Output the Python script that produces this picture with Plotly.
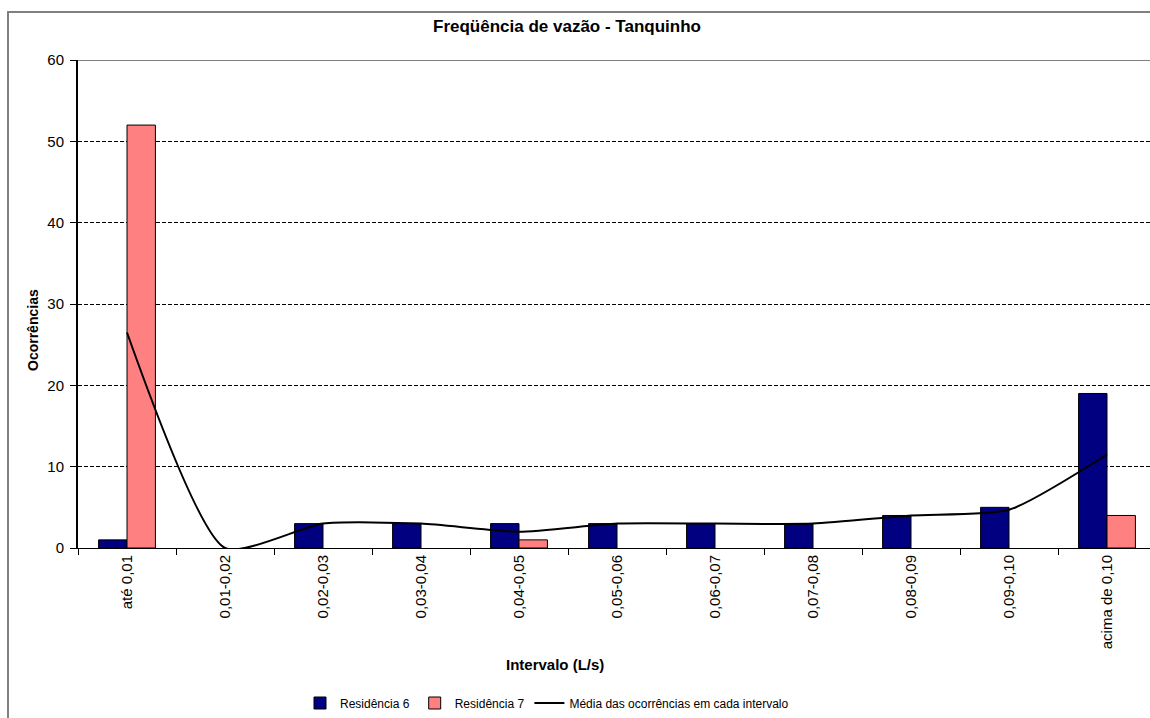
import plotly.graph_objects as go

categories = ["até 0,01", "0,01-0,02", "0,02-0,03", "0,03-0,04", "0,04-0,05",
              "0,05-0,06", "0,06-0,07", "0,07-0,08", "0,08-0,09", "0,09-0,10",
              "acima de 0,10"]
res6 = [1, 0, 3, 3, 3, 3, 3, 3, 4, 5, 19]
res7 = [52, 0, 0, 0, 1, 0, 0, 0, 0, 0, 4]
media = [26.5, 0, 3, 3, 2, 3, 3, 3, 4, 4.7, 11.5]
y_ticks = [0, 10, 20, 30, 40, 50, 60]

W, H = 1150, 718
L, R, T, B = 78, 0, 60, 170
PW, PH = W - L - R, H - T - B
FONT = "Arial, Liberation Sans, sans-serif"

def px_x(p):
    return (p - L) / PW

def px_y(p):
    return (H - B - p) / PH

def outline(vals):
    return [1 if v else 0 for v in vals]

fig = go.Figure()
fig.add_trace(go.Bar(x=categories, y=res6, name="Residência 6",
                     marker=dict(color="#000080", line=dict(color="#000000", width=outline(res6)))))
fig.add_trace(go.Bar(x=categories, y=res7, name="Residência 7",
                     marker=dict(color="#FF8080", line=dict(color="#000000", width=outline(res7)))))
fig.add_trace(go.Scatter(x=categories, y=media, name="Média das ocorrências em cada intervalo",
                         mode="lines", line=dict(color="#000000", width=2, shape="spline", smoothing=0.6)))

fig.update_layout(
    width=W, height=H,
    margin=dict(l=L, r=R, t=T, b=B, autoexpand=False),
    paper_bgcolor="white", plot_bgcolor="white",
    barmode="group", bargap=0.42, bargroupgap=0,
    font=dict(family=FONT, color="#000000", size=13),
    title=dict(text="<b>Freqüência de vazão - Tanquinho</b>", x=567 / W, xanchor="center",
               y=1 - 26 / H, yanchor="middle", font=dict(size=17, family=FONT)),
    showlegend=True,
    legend=dict(orientation="h", x=px_x(300), xanchor="left", y=px_y(703), yanchor="middle",
                font=dict(size=12, family=FONT), bgcolor="rgba(0,0,0,0)",
                itemwidth=30, tracegroupgap=0),
    xaxis=dict(type="category", range=[-0.5, -0.5 + PW / 98.0], tickangle=-90,
               tickson="boundaries", ticks="outside", ticklen=6, tickcolor="#000000",
               showline=True, linecolor="#000000", linewidth=1, showgrid=False,
               tickfont=dict(size=15, family=FONT), fixedrange=True),
    yaxis=dict(range=[0, 60], tickvals=y_ticks, ticks="outside", ticklen=6, tickcolor="#000000",
               showline=True, linecolor="#000000", linewidth=2,
               showgrid=True, gridcolor="#000000", gridwidth=1, griddash="4px,2px",
               zeroline=False, tickfont=dict(size=15, family=FONT), ticklabelstandoff=3),
    shapes=[
        dict(type="line", xref="paper", yref="y", x0=0, x1=1, y0=60, y1=60,
             line=dict(color="#808080", width=2)),
        dict(type="rect", xref="paper", yref="paper", x0=px_x(8), x1=1.05,
             y0=-0.6, y1=px_y(12), line=dict(color="#808080", width=2)),
    ],
    annotations=[
        dict(text="<b>Intervalo (L/s)</b>", xref="paper", yref="paper",
             x=px_x(555), y=px_y(664), xanchor="center", yanchor="middle",
             showarrow=False, font=dict(size=15, family=FONT)),
        dict(text="<b>Ocorrências</b>", xref="paper", yref="paper",
             x=px_x(33), y=px_y(330), xanchor="center", yanchor="middle", textangle=-90,
             showarrow=False, font=dict(size=14, family=FONT)),
    ],
)

fig.write_html("out.html")
